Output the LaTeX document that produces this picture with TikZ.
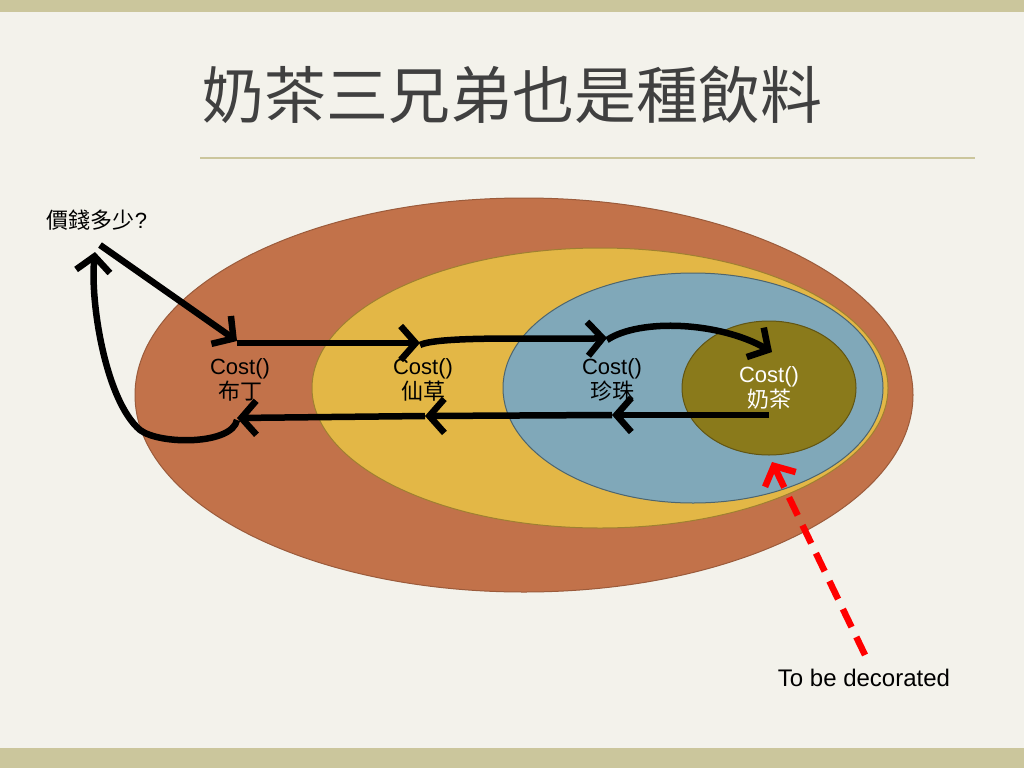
\documentclass[tikz,border=0pt]{standalone}
\usepackage{fontspec}
\setmainfont{Liberation Sans}
\newfontfamily\cjk{Noto Sans CJK TC}
\usetikzlibrary{arrows.meta}
\definecolor{bg}{HTML}{F3F2EB}
\definecolor{band}{HTML}{CBC69C}
\definecolor{outerc}{HTML}{C2724A}
\definecolor{yelc}{HTML}{E3B746}
\definecolor{bluec}{HTML}{80A8B9}
\definecolor{olivec}{HTML}{8A7A1B}
\tikzset{
  blk/.style={line width=6.5pt,-{Straight Barb[length=15pt,width=34pt,line width=6.5pt]}},
  lbl/.style={align=center,font=\fontsize{22}{25}\selectfont,inner sep=0pt},
}
\begin{document}
\begin{tikzpicture}[x=1pt,y=-1pt]
\useasboundingbox (0,0) rectangle (1024,768);
\fill[bg] (0,0) rectangle (1024,768);
\fill[band] (0,0) rectangle (1024,12);
\fill[band] (0,748) rectangle (1024,768);
\node[font=\cjk\fontsize{62}{68}\selectfont,text=black!75] (title) at (512,95) {奶茶三兄弟也是種飲料};
\draw[band,line width=1.5pt] (200,158) -- (975,158);
\filldraw[fill=outerc,draw=outerc!80!black,line width=1pt] (524,395) ellipse (389 and 197);
\filldraw[fill=yelc,draw=yelc!70!black,line width=1pt] (600,388) ellipse (288 and 140);
\filldraw[fill=bluec,draw=bluec!60!black,line width=1pt] (693,388) ellipse (190 and 115);
\filldraw[fill=olivec,draw=olivec!70!black,line width=1pt] (769,388) ellipse (87 and 67);
\node[lbl] (c1) at (240,380) {Cost()\\{\cjk 布丁}};
\node[lbl] (c2) at (423,380) {Cost()\\{\cjk 仙草}};
\node[lbl] (c3) at (612,380) {Cost()\\{\cjk 珍珠}};
\node[lbl,text=white] (c4) at (769,388) {Cost()\\{\cjk 奶茶}};
\node[lbl] (q) at (97,220) {{\cjk 價錢多少}?};
\node[lbl,font=\fontsize{24}{28}\selectfont] (dec) at (864,678) {To be decorated};
\coordinate (s0) at (100,245);
\coordinate (a1) at (237,341);
\coordinate (a2) at (420,343);
\coordinate (a3) at (607,338);
\coordinate (a4) at (772,352);
\coordinate (b4) at (769,415);
\coordinate (b3) at (612,415);
\coordinate (b2) at (425,416);
\coordinate (b1) at (237,418);
\coordinate (top) at (95,252);
\draw[blk] (s0) -- (a1);
\draw[blk] (237,343) -- (a2);
\draw[blk] (420,345) .. controls (440,335) and (560,340) .. (a3);
\draw[blk] (607,340) .. controls (640,318) and (720,322) .. (a4);
\draw[blk] (b4) -- (b3);
\draw[blk] (b3) -- (b2);
\draw[blk] (b2) -- (b1);
\draw[blk] (237,420) .. controls (232,445) and (160,445) .. (140,430) .. controls (105,400) and (90,300) .. (top);
\draw[red,line width=6.5pt,dash pattern=on 20pt off 11pt,-{Straight Barb[length=15pt,width=34pt,line width=6.5pt]}] (865,655) -- (772,462);
\end{tikzpicture}
\end{document}
